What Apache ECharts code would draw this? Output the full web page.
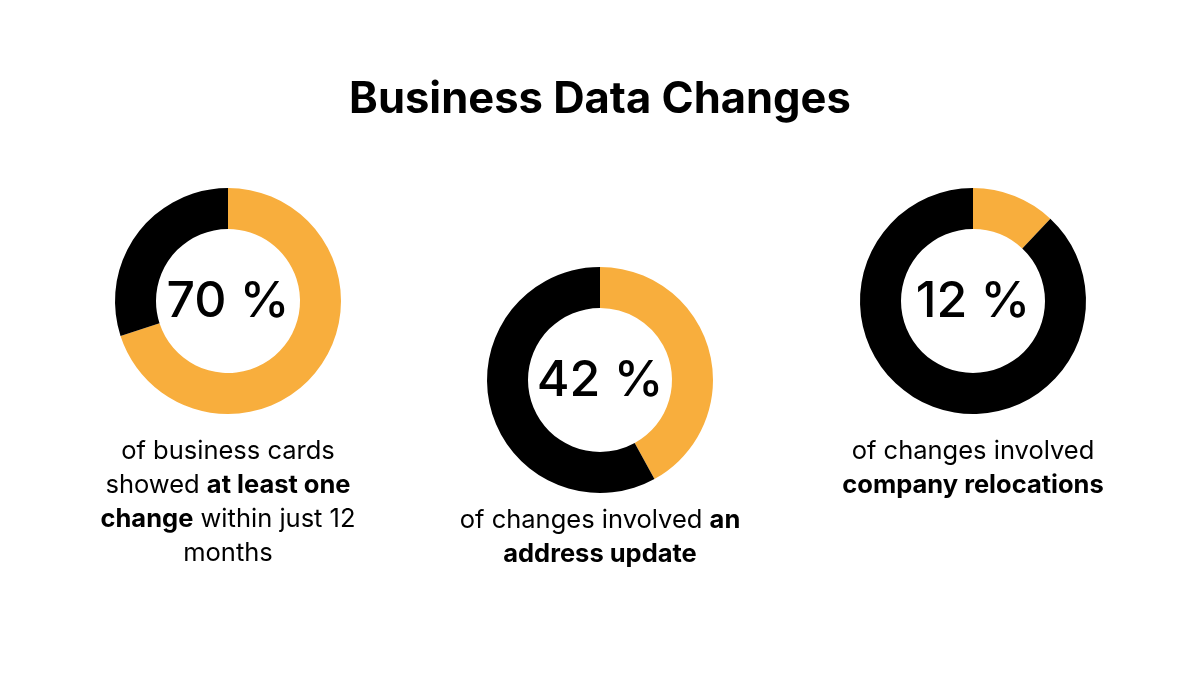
<!DOCTYPE html>
<html>
<head>
<meta charset="utf-8">
<script src="https://cdn.jsdelivr.net/npm/echarts@6/dist/echarts.min.js"></script>
<style>
html,body{margin:0;padding:0;background:#fff;}
#c{width:1200px;height:700px;}
</style>
</head>
<body>
<div id="c"></div>
<script>
const titleText = 'Business Data Changes';
const shares = [70, 42, 12];
const centerLabels = ['70 %', '42 %', '12 %'];
const captions = [
  '{r|of business cards}\n{r|showed }{b|at least one}\n{b|change}{r| within just 12}\n{r|months}',
  '{r|of changes involved }{b|an}\n{b|address update}',
  '{r|of changes involved}\n{b|company relocations}'
];

const ORANGE = '#F8AE3D';
const BLACK = '#000000';
const FONT = 'Inter, "Noto Sans", sans-serif';
const centers = [[228, 301], [600, 380], [973, 301]];
const captionTop = [434, 503, 434];

const chart = echarts.init(document.getElementById('c'), null, {renderer: 'canvas'});

const series = shares.map((v, i) => ({
  type: 'pie',
  center: centers[i],
  radius: [72, 113],
  startAngle: 90,
  clockwise: true,
  silent: true,
  label: {show: false},
  labelLine: {show: false},
  itemStyle: {borderWidth: 0},
  data: [
    {value: v, itemStyle: {color: ORANGE}},
    {value: 100 - v, itemStyle: {color: BLACK}}
  ]
}));

const graphics = [{
  type: 'text',
  x: 600, y: 100,
  style: {
    text: titleText,
    fill: '#000',
    font: '700 43.5px ' + FONT,
    align: 'center',
    verticalAlign: 'middle'
  }
}];

centerLabels.forEach((t, i) => {
  graphics.push({
    type: 'text',
    x: centers[i][0], y: centers[i][1] + 1,
    style: {
      text: t,
      fill: '#000',
      font: '500 50px ' + FONT,
      align: 'center',
      verticalAlign: 'middle'
    }
  });
  graphics.push({
    type: 'text',
    x: centers[i][0], y: captionTop[i],
    style: {
      text: captions[i],
      fill: '#000',
      align: 'center',
      verticalAlign: 'top',
      fontSize: 25.5,
      fontFamily: FONT,
      lineHeight: 34,
      rich: {
        r: {fontSize: 25.5, fontWeight: 400, fontFamily: FONT, lineHeight: 34, fill: '#000', color: '#000'},
        b: {fontSize: 25.5, fontWeight: 700, fontFamily: FONT, lineHeight: 34, fill: '#000', color: '#000'}
      }
    }
  });
});

chart.setOption({
  backgroundColor: '#ffffff',
  animation: false,
  series: series,
  graphic: graphics
});
</script>
</body>
</html>
